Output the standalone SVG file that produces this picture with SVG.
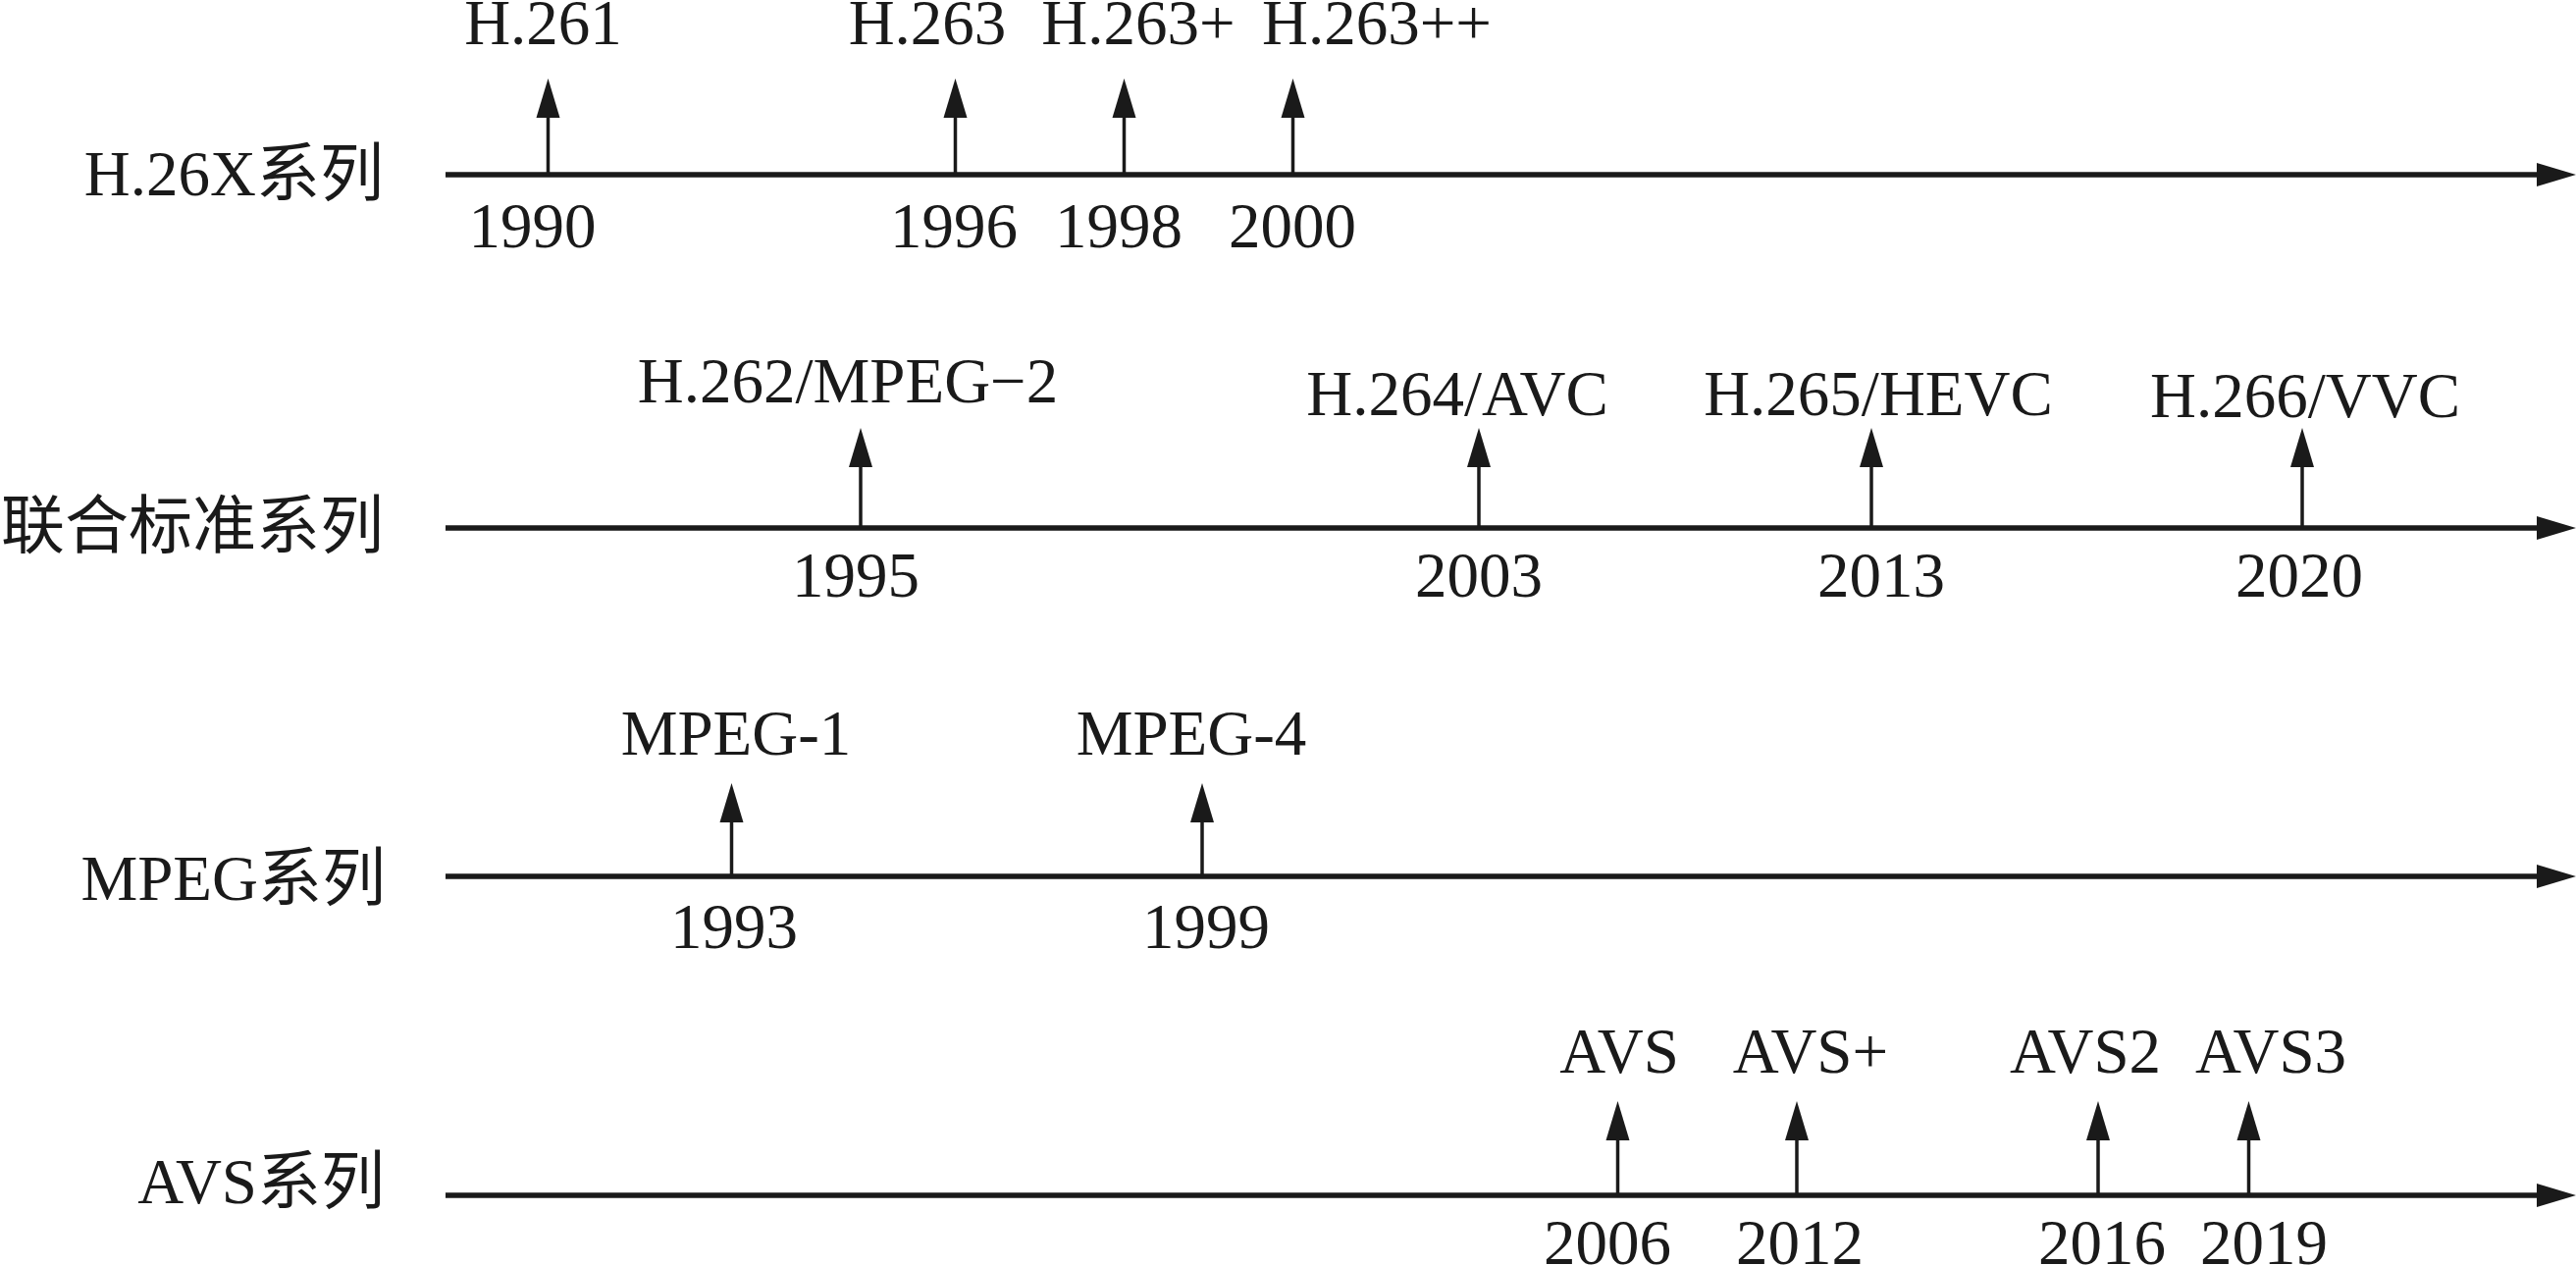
<svg xmlns="http://www.w3.org/2000/svg" width="2625" height="1289" viewBox="0 0 2625 1289">
<defs>
<style>
text{font-family:"Liberation Serif","Noto Sans CJK SC",serif;font-size:65px;fill:#1a1a1a}
.c{text-anchor:middle}
.s{text-anchor:end}
.axis{stroke:#1a1a1a;stroke-width:5.5;fill:none}
.stem{stroke:#1a1a1a;stroke-width:3.5;fill:none}
</style>
<marker id="ah" markerUnits="userSpaceOnUse" markerWidth="40" markerHeight="24" refX="0" refY="12" orient="auto" overflow="visible">
<path d="M0,0 L40,12 L0,24 Z" fill="#1a1a1a"/>
</marker>
</defs>
<rect width="2625" height="1289" fill="#ffffff"/>

<g id="connectors">
<path class="axis" d="M454,178 H2585" marker-end="url(#ah)"/>
<path class="axis" d="M454,538 H2585" marker-end="url(#ah)"/>
<path class="axis" d="M454,893 H2585" marker-end="url(#ah)"/>
<path class="axis" d="M454,1218 H2585" marker-end="url(#ah)"/>

<path class="stem" d="M558.5,178 V120" marker-end="url(#ah)"/>
<path class="stem" d="M973.5,178 V120" marker-end="url(#ah)"/>
<path class="stem" d="M1145.5,178 V120" marker-end="url(#ah)"/>
<path class="stem" d="M1317.5,178 V120" marker-end="url(#ah)"/>

<path class="stem" d="M877,538 V476" marker-end="url(#ah)"/>
<path class="stem" d="M1507,538 V476" marker-end="url(#ah)"/>
<path class="stem" d="M1907,538 V476" marker-end="url(#ah)"/>
<path class="stem" d="M2346,538 V476" marker-end="url(#ah)"/>

<path class="stem" d="M745.5,893 V838" marker-end="url(#ah)"/>
<path class="stem" d="M1225,893 V838" marker-end="url(#ah)"/>

<path class="stem" d="M1648.5,1218 V1162" marker-end="url(#ah)"/>
<path class="stem" d="M1831,1218 V1162" marker-end="url(#ah)"/>
<path class="stem" d="M2138,1218 V1162" marker-end="url(#ah)"/>
<path class="stem" d="M2291.5,1218 V1162" marker-end="url(#ah)"/>
</g>

<g id="series-h26x"><text class="s" x="391" y="199">H.26X系列</text></g>
<g id="series-joint"><text class="s" x="391" y="558">联合标准系列</text></g>
<g id="series-mpeg"><text class="s" x="393" y="917">MPEG系列</text></g>
<g id="series-avs"><text class="s" x="392" y="1226">AVS系列</text></g>

<g id="ev-h261"><text class="c" x="553.5" y="45">H.261</text><text class="c" x="542.5" y="252">1990</text></g>
<g id="ev-h263"><text class="c" x="945" y="45">H.263</text><text class="c" x="972" y="252">1996</text></g>
<g id="ev-h263p"><text class="c" x="1160" y="45">H.263+</text><text class="c" x="1140" y="252">1998</text></g>
<g id="ev-h263pp"><text class="c" x="1403" y="45">H.263++</text><text class="c" x="1317" y="252">2000</text></g>

<g id="ev-h262"><text class="c" x="864" y="410">H.262/MPEG−2</text><text class="c" x="872" y="608">1995</text></g>
<g id="ev-h264"><text class="c" x="1485" y="423">H.264/AVC</text><text class="c" x="1507" y="608">2003</text></g>
<g id="ev-h265"><text class="c" x="1914" y="423">H.265/HEVC</text><text class="c" x="1917" y="608">2013</text></g>
<g id="ev-h266"><text class="c" x="2349" y="425">H.266/VVC</text><text class="c" x="2343" y="608">2020</text></g>

<g id="ev-mpeg1"><text class="c" x="750" y="769">MPEG-1</text><text class="c" x="748" y="966">1993</text></g>
<g id="ev-mpeg4"><text class="c" x="1214" y="769">MPEG-4</text><text class="c" x="1229" y="966">1999</text></g>

<g id="ev-avs"><text class="c" x="1650" y="1093">AVS</text><text class="c" x="1638" y="1288">2006</text></g>
<g id="ev-avsp"><text class="c" x="1845" y="1093">AVS+</text><text class="c" x="1834" y="1288">2012</text></g>
<g id="ev-avs2"><text class="c" x="2125" y="1093">AVS2</text><text class="c" x="2142" y="1288">2016</text></g>
<g id="ev-avs3"><text class="c" x="2314" y="1093">AVS3</text><text class="c" x="2307" y="1288">2019</text></g>
</svg>
